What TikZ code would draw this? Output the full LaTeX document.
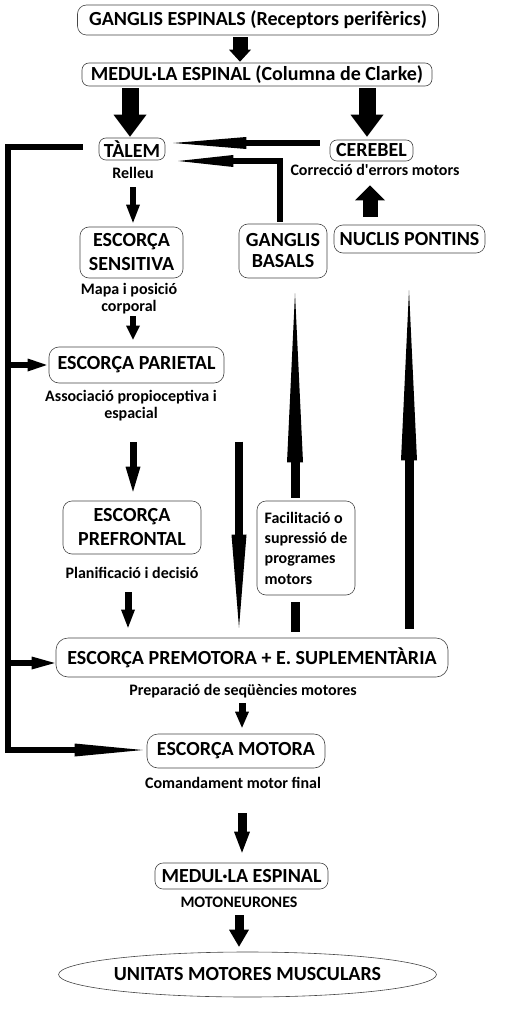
\documentclass[tikz,border=0pt]{standalone}
\usepackage{fontspec}
\setmainfont{Carlito}
\usetikzlibrary{arrows.meta,calc,shapes.geometric}
\definecolor{boxc}{RGB}{70,70,70}
\tikzset{
  box/.style={draw=boxc, line width=0.6pt, rounded corners=9pt, inner sep=0pt,
    font=\bfseries\fontsize{20}{24}\selectfont, align=center},
  lbl/.style={font=\bfseries\fontsize{16}{17}\selectfont, align=center, inner sep=0pt},
  barrow/.style n args={3}{line width=#1, -{Triangle[length=#2,width=#3,line width=0pt]}}
}
\begin{document}
\begin{tikzpicture}[x=1pt,y=-1pt]
\useasboundingbox[fill=white] (0,0) rectangle (530,1024);
% nodes
\node[box, minimum width=361, minimum height=30] (ge) at (258,20) {GANGLIS ESPINALS (Receptors perifèrics)};
\node[box, minimum width=350, minimum height=23, rounded corners=7pt] (me) at (257,74.5) {MEDUL·LA ESPINAL (Columna de Clarke)};
\node[box, minimum width=66, minimum height=22, rounded corners=7pt] (talem) at (132,149) {TÀLEM};
\node[box, minimum width=83, minimum height=21, rounded corners=7pt] (cerebel) at (371.5,150.5) {CEREBEL};
\node[box, minimum width=88, minimum height=54, font=\bfseries\fontsize{20}{21}\selectfont] (gb) at (283,251) {GANGLIS\\BASALS};
\node[box, minimum width=151, minimum height=28] (nuclis) at (409.5,239) {NUCLIS PONTINS};
\node[box, minimum width=103, minimum height=51] (sens) at (131.5,252.5) {ESCORÇA\\SENSITIVA};
\node[box, minimum width=175, minimum height=36, rounded corners=10pt] (parietal) at (136.5,365) {ESCORÇA PARIETAL};
\node[box, minimum width=138, minimum height=53] (pref) at (132,527.5) {ESCORÇA\\PREFRONTAL};
\node[box, minimum width=98, minimum height=94, align=left, font=\bfseries\fontsize{16}{20.3}\selectfont] (facil) at (306,548) {Facilitació o\\supressió de\\programes\\motors};
\node[box, minimum width=392, minimum height=39, rounded corners=12pt] (premotora) at (252,657.5) {ESCORÇA PREMOTORA + E. SUPLEMENTÀRIA};
\node[box, minimum width=178, minimum height=34, rounded corners=11pt] (motora) at (236,751) {ESCORÇA MOTORA};
\node[box, minimum width=173, minimum height=26, rounded corners=8pt] (medul2) at (241.5,876) {MEDUL·LA ESPINAL};
\node[box, ellipse, minimum width=299, minimum height=45] (unitats) at (247.5,974.5) {UNITATS MOTORES MUSCULARS};
% labels
\node[lbl] (relleu) at (133,173) {Relleu};
\node[lbl] (corr) at (375,170) {Correcció d\textquotesingle errors motors};
\node[lbl] (mapa) at (129,299) {Mapa i posició\\corporal};
\node[lbl] (assoc) at (131,406) {Associació propioceptiva i\\espacial};
\node[lbl] (planif) at (132,573) {Planificació i decisió};
\node[lbl] (prep) at (243,691) {Preparació de seqüències motores};
\node[lbl] (coman) at (233,783) {Comandament motor final};
\node[lbl] (moto) at (239,902) {MOTONEURONES};
% connectors
\draw[barrow={15pt}{12pt}{22pt}] ($(ge.south)+(-18,2)$) -- ($(me.north)+(-17,-1)$);
\draw[barrow={17pt}{22pt}{33pt}] ($(me.south)+(-127,2)$) -- ($(talem.north)+(-2,-1)$);
\draw[barrow={17pt}{22pt}{33pt}] ($(me.south)+(110,2)$) -- ($(cerebel.north)+(-4.5,-3)$);
\draw[barrow={6pt}{73pt}{12pt}] ($(cerebel.west)+(-10,-7.5)$) -- ($(talem.east)+(8,-6)$);
\draw[barrow={6pt}{55pt}{12pt}] ($(gb.north)+(-3,-2)$) |- ($(talem.east)+(13,12)$);
\draw[barrow={15pt}{15pt}{30pt}] ($(nuclis.north)+(-39.5,-8)$) -- ($(cerebel.south)+(-1.5,24)$);
\draw[barrow={6pt}{18pt}{14pt}] ($(talem.south)+(1,27)$) -- ($(sens.north)+(1.5,-4)$);
\draw[barrow={6pt}{14pt}{14pt}] ($(sens.south)+(1.5,38)$) -- ($(parietal.north)+(-3.5,-7)$);
\draw[barrow={6pt}{68pt}{13pt}] ($(talem.west)+(-16,-2)$) -- ++(-75,0) |- ($(motora.west)+(-4,-1)$);
\draw[barrow={6pt}{19pt}{13pt}] ($(parietal.west)+(-41,0)$) -- ($(parietal.west)+(-2,0)$);
\draw[barrow={6pt}{23pt}{13pt}] ($(premotora.west)+(-48,5.5)$) -- ($(premotora.west)+(-1,5.5)$);
\draw[barrow={7pt}{25pt}{15pt}] ($(parietal.south)+(-3.5,59)$) -- ($(pref.north)+(1,-9)$);
\draw[barrow={8pt}{93pt}{15pt}] ($(premotora.north)+(-13,-196)$) -- ($(premotora.north)+(-13,-10)$);
\draw[barrow={7pt}{18pt}{14pt}] ($(pref.south)+(-4,38)$) -- ($(premotora.north)+(-124,-10)$);
\draw[line width=9pt] ($(premotora.north)+(43,-6)$) -- ($(facil.south)+(-11,7)$);
\draw[barrow={9pt}{169pt}{16pt}] ($(facil.north)+(-11,-3)$) -- ($(gb.south)+(12,15)$);
\draw[barrow={9pt}{170pt}{16pt}] ($(premotora.north)+(157,-9)$) -- ($(nuclis.south)+(-0.5,37)$);
\draw[barrow={7pt}{16pt}{14pt}] ($(premotora.south)+(-10,26)$) -- ($(motora.north)+(6,-6)$);
\draw[barrow={9pt}{21pt}{16pt}] ($(motora.south)+(6,45)$) -- ($(medul2.north)+(0.5,-10)$);
\draw[barrow={9pt}{17pt}{20pt}] ($(medul2.south)+(-2.5,26)$) -- ($(unitats.north)+(-8.5,-5)$);
\end{tikzpicture}
\end{document}
